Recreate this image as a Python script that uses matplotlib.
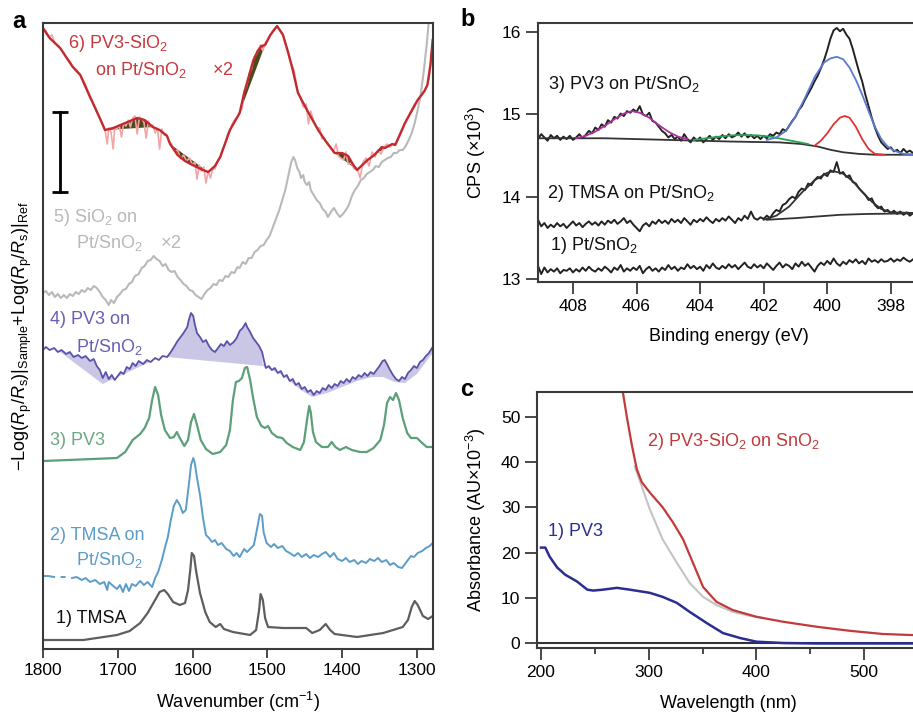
import numpy as np
import matplotlib.pyplot as plt

plt.rcParams['font.family'] = ['Liberation Sans', 'DejaVu Sans']
plt.rcParams['mathtext.fontset'] = 'custom'
plt.rcParams['mathtext.rm'] = 'Liberation Sans'
plt.rcParams['mathtext.it'] = 'Liberation Sans:italic'
plt.rcParams['mathtext.bf'] = 'Liberation Sans:bold'

# ---------------- panel a : IR spectra (wavenumber, stacked intensity, a.u.) ----------------
tmsa = [(1800, 9), (1746, 9), (1701, 14), (1684, 18), (1670, 26), (1660, 36), (1650, 49), (1644, 57),
        (1638, 59), (1633, 55), (1626, 47), (1617, 44), (1610, 46), (1606, 59), (1603, 79), (1601, 96),
        (1598, 93), (1595, 77), (1590, 56), (1583, 37), (1577, 27), (1569, 22), (1563, 25), (1558, 20),
        (1546, 17), (1523, 14), (1515, 19), (1511, 39), (1509, 55), (1506, 49), (1503, 31), (1499, 22),
        (1479, 21), (1456, 21), (1448, 21), (1440, 16), (1430, 19), (1422, 25), (1416, 19), (1410, 15),
        (1380, 12), (1345, 16), (1319, 22), (1312, 29), (1307, 42), (1303, 48), (1299, 44), (1292, 33),
        (1285, 30), (1279, 33)]

tmsa_pt = [(1800, 73), (1793, 73), (1785, 72), (np.nan, np.nan), (1775, 72), (1771, 72), (np.nan, np.nan),
           (1761, 71), (1755, 72), (1748, 69), (1743, 71), (1737, 67), (1730, 69), (1724, 65), (1718, 67),
           (1714, 59), (1712, 67), (1706, 63), (1701, 60), (1697, 64), (1693, 57), (1689, 65), (1685, 58),
           (1681, 65), (1676, 63), (1670, 68), (1665, 64), (1660, 67), (1654, 62), (1650, 71), (1646, 77),
           (1641, 89), (1637, 101), (1633, 112), (1629, 129), (1625, 143), (1621, 149), (1617, 144),
           (1613, 136), (1609, 139), (1605, 164), (1602, 184), (1599, 191), (1597, 186), (1594, 171),
           (1590, 154), (1586, 131), (1582, 114), (1578, 111), (1574, 107), (1570, 109), (1566, 104),
           (1561, 106), (1555, 100), (1550, 98), (1545, 93), (1541, 96), (1537, 92), (1531, 100), (1527, 97),
           (1522, 101), (1518, 104), (1514, 119), (1510, 135), (1507, 133), (1505, 117), (1501, 106),
           (1495, 102), (1491, 105), (1486, 101), (1480, 103), (1475, 98), (1470, 96), (1464, 93), (1459, 96),
           (1454, 92), (1448, 95), (1443, 91), (1438, 94), (1432, 92), (1427, 95), (1422, 97), (1416, 92),
           (1411, 96), (1406, 90), (1400, 88), (1395, 91), (1390, 87), (1384, 89), (1379, 85), (1374, 88),
           (1368, 86), (1363, 90), (1357, 88), (1352, 91), (1347, 87), (1341, 89), (1336, 84), (1331, 86),
           (1325, 82), (1320, 81), (1316, 85), (1312, 89), (1308, 93), (1304, 92), (1299, 96), (1293, 98),
           (1288, 101), (1283, 103), (1279, 106)]

pv3 = [(1800, 188), (1701, 191), (1690, 197), (1680, 209), (1670, 215), (1664, 221), (1658, 231), (1654, 249),
       (1650, 262), (1646, 254), (1642, 234), (1637, 219), (1630, 211), (1625, 212), (1621, 217), (1617, 211),
       (1611, 203), (1606, 209), (1602, 227), (1598, 235), (1594, 224), (1589, 209), (1582, 200), (1573, 195),
       (1563, 197), (1555, 204), (1550, 219), (1546, 249), (1542, 267), (1538, 268), (1534, 271), (1530, 281),
       (1527, 282), (1523, 269), (1519, 251), (1514, 232), (1508, 223), (1503, 221), (1499, 223), (1494, 216),
       (1487, 212), (1480, 211), (1474, 206), (1466, 202), (1456, 199), (1451, 207), (1447, 229), (1444, 243),
       (1442, 237), (1439, 217), (1435, 207), (1427, 202), (1419, 202), (1414, 207), (1409, 202), (1403, 199),
       (1395, 202), (1387, 199), (1376, 197), (1367, 197), (1358, 201), (1349, 209), (1344, 224), (1340, 246),
       (1336, 252), (1332, 249), (1328, 256), (1324, 249), (1319, 231), (1313, 216), (1308, 211), (1300, 211),
       (1293, 206), (1287, 202), (1279, 202)]

pv3_pt = [(1800, 299), (1796, 302), (1791, 299), (1785, 301), (1780, 297), (1775, 299), (1769, 295), (1764, 297),
          (1759, 292), (1753, 294), (1748, 291), (1743, 293), (1737, 288), (1732, 290), (1728, 283), (1724, 279),
          (1720, 271), (1716, 277), (1712, 270), (1708, 274), (1704, 269), (1700, 273), (1696, 277), (1692, 275),
          (1688, 282), (1684, 280), (1680, 286), (1676, 283), (1672, 288), (1666, 285), (1661, 289), (1656, 287),
          (1650, 291), (1645, 289), (1640, 293), (1634, 292), (1629, 297), (1624, 303), (1620, 308), (1616, 312),
          (1612, 316), (1607, 322), (1605, 329), (1602, 336), (1599, 333), (1597, 325), (1594, 316), (1590, 312),
          (1586, 307), (1582, 309), (1578, 303), (1574, 299), (1570, 297), (1566, 301), (1562, 305), (1558, 303),
          (1554, 308), (1550, 304), (1545, 307), (1541, 311), (1537, 318), (1533, 321), (1529, 326), (1527, 322),
          (1523, 317), (1519, 311), (1515, 307), (1511, 303), (1507, 297), (1504, 287), (1502, 281), (1498, 283),
          (1494, 279), (1490, 281), (1486, 276), (1482, 278), (1478, 272), (1474, 274), (1470, 268), (1466, 270),
          (1462, 264), (1458, 266), (1454, 260), (1450, 262), (1446, 257), (1442, 259), (1438, 254), (1434, 258),
          (1430, 256), (1426, 261), (1422, 259), (1418, 264), (1414, 261), (1410, 265), (1406, 263), (1402, 268),
          (1398, 266), (1394, 270), (1390, 267), (1386, 272), (1382, 270), (1378, 274), (1374, 272), (1370, 276),
          (1366, 273), (1362, 277), (1358, 275), (1354, 279), (1350, 283), (1346, 288), (1343, 289), (1340, 285),
          (1336, 279), (1332, 274), (1328, 270), (1324, 268), (1320, 272), (1316, 270), (1312, 276), (1308, 279),
          (1304, 283), (1300, 281), (1296, 287), (1292, 289), (1288, 293), (1284, 296), (1279, 302)]

# baselines under the PV3 on Pt/SnO2 bands (shaded)
pv3_pt_base = [
    [(1777, 297), (1720, 265), (1657, 287)],
    [(1634, 292), (1506, 283)],
    [(1506, 283), (1480, 274), (1455, 259), (1440, 252), (1420, 256), (1400, 262), (1380, 268),
     (1360, 272), (1345, 272), (1330, 267), (1316, 266), (1300, 275), (1279, 296)],
]

sio2_pt = [(1800, 356), (1796, 358), (1792, 354), (1788, 357), (1784, 352), (1780, 355), (1776, 351), (1772, 354),
           (1768, 351), (1764, 355), (1760, 353), (1756, 357), (1752, 355), (1748, 359), (1744, 357), (1740, 361),
           (1736, 359), (1732, 363), (1728, 361), (1724, 357), (1720, 352), (1716, 349), (1712, 344), (1709, 349),
           (1705, 346), (1701, 352), (1697, 355), (1693, 359), (1689, 360), (1685, 365), (1681, 367), (1677, 373),
           (1672, 375), (1668, 381), (1664, 383), (1660, 388), (1656, 389), (1652, 393), (1648, 390), (1644, 388),
           (1640, 383), (1636, 385), (1632, 379), (1628, 377), (1624, 378), (1620, 372), (1616, 369), (1612, 365),
           (1608, 363), (1604, 359), (1600, 358), (1596, 354), (1592, 352), (1588, 350), (1584, 355), (1580, 359),
           (1576, 361), (1572, 365), (1568, 364), (1564, 369), (1560, 368), (1556, 373), (1552, 372), (1548, 377),
           (1544, 376), (1540, 382), (1537, 381), (1533, 387), (1529, 385), (1525, 391), (1521, 391), (1517, 397),
           (1513, 399), (1509, 403), (1505, 404), (1501, 409), (1497, 413), (1493, 421), (1489, 429), (1484, 439),
           (1480, 449), (1476, 459), (1472, 473), (1468, 487), (1465, 492), (1463, 489), (1460, 481), (1457, 477),
           (1455, 471), (1452, 474), (1450, 467), (1447, 464), (1444, 467), (1442, 459), (1438, 454), (1434, 449),
           (1430, 446), (1426, 440), (1422, 437), (1419, 432), (1415, 437), (1411, 441), (1407, 436), (1403, 432),
           (1399, 435), (1395, 439), (1391, 444), (1387, 453), (1383, 459), (1379, 463), (1375, 469), (1371, 471),
           (1367, 475), (1363, 477), (1359, 479), (1355, 483), (1351, 482), (1347, 487), (1343, 489), (1339, 491),
           (1335, 492), (1331, 496), (1327, 496), (1323, 499), (1319, 499), (1315, 503), (1311, 509), (1307, 516),
           (1303, 526), (1299, 539), (1295, 554), (1291, 577), (1287, 604), (1284, 629), (1281, 649)]

pv3_sio2_raw = [(1800, 621), (1796, 618), (1792, 612), (1788, 614), (1784, 606), (1780, 604), (1776, 600),
                (1772, 596), (1768, 590), (1764, 588), (1760, 582), (1756, 580), (1752, 576), (1748, 571),
                (1744, 566), (1740, 558), (1736, 552), (1732, 545), (1728, 538), (1724, 531), (1720, 524),
                (1717, 519), (1714, 505), (1712, 521), (1709, 517), (1706, 500), (1704, 522), (1701, 520),
                (1698, 524), (1695, 512), (1692, 526), (1689, 523), (1686, 529), (1683, 522), (1680, 531),
                (1677, 533), (1674, 515), (1671, 532), (1668, 530), (1665, 527), (1662, 511), (1659, 528),
                (1656, 522), (1653, 524), (1650, 516), (1647, 521), (1644, 500), (1641, 520), (1638, 514),
                (1635, 515), (1632, 508), (1628, 505), (1624, 498), (1620, 499), (1616, 490), (1612, 494),
                (1608, 488), (1604, 491), (1600, 484), (1597, 487), (1594, 470), (1591, 484), (1588, 478),
                (1585, 482), (1582, 466), (1579, 478), (1576, 471), (1573, 480), (1570, 480), (1566, 489),
                (1563, 491), (1560, 500), (1557, 504), (1553, 515), (1550, 519), (1547, 525), (1544, 529),
                (1540, 532), (1537, 537), (1534, 540), (1531, 558), (1528, 562), (1524, 576), (1521, 580),
                (1518, 592), (1515, 594), (1512, 599), (1509, 604), (1506, 598), (1503, 606), (1500, 609),
                (1496, 614), (1492, 619), (1488, 622), (1484, 620), (1480, 616), (1476, 606), (1472, 597),
                (1468, 586), (1464, 578), (1460, 559), (1456, 552), (1452, 542), (1448, 545), (1445, 525),
                (1442, 538), (1438, 528), (1434, 521), (1430, 521), (1427, 510), (1424, 511), (1420, 505),
                (1416, 502), (1412, 497), (1408, 505), (1405, 493), (1402, 491), (1398, 489), (1395, 497),
                (1392, 485), (1388, 486), (1384, 480), (1380, 481), (1376, 471), (1372, 487), (1368, 491),
                (1364, 483), (1360, 497), (1356, 492), (1352, 499), (1348, 495), (1344, 502), (1340, 505),
                (1336, 502), (1332, 505), (1328, 506), (1324, 512), (1320, 518), (1316, 526), (1312, 532),
                (1308, 538), (1304, 544), (1300, 548), (1296, 552), (1292, 555), (1288, 560), (1284, 570),
                (1281, 588), (1279, 605)]

pv3_sio2 = [(1800, 621), (1791, 611), (1777, 601), (1760, 582), (1750, 574), (1737, 552), (1724, 531),
            (1717, 519), (1706, 521), (1690, 526), (1674, 531), (1664, 529), (1653, 522), (1644, 519),
            (1634, 513), (1630, 505), (1620, 494), (1610, 488), (1600, 484), (1586, 479), (1579, 477),
            (1570, 483), (1563, 492), (1550, 519), (1537, 536), (1531, 556), (1525, 572), (1519, 588),
            (1513, 598), (1508, 603), (1503, 604), (1496, 614), (1487, 623), (1479, 614), (1472, 596),
            (1466, 579), (1459, 556), (1447, 539), (1432, 519), (1423, 509), (1410, 496), (1400, 496),
            (1392, 493), (1385, 484), (1380, 479), (1366, 489), (1357, 494), (1347, 502), (1343, 501),
            (1333, 505), (1329, 504), (1316, 526), (1299, 549), (1290, 558), (1286, 564), (1282, 584),
            (1279, 609)]

# bands of PV3-SiO2 filled against their chord (wavenumber ranges)
pv3_sio2_bands = [(1717, 1653), (1630, 1579), (1537, 1503), (1410, 1380), (1357, 1333)]

scale_bar = (1777, 457, 537)

# ---------------- panel b : XPS N1s ----------------
be_start, be_end = 409.1, 397.3
xps_pv3 = [14.70, 14.76, 14.72, 14.68, 14.75, 14.71, 14.74, 14.69, 14.73, 14.70,
           14.74, 14.69, 14.72, 14.76, 14.71, 14.75, 14.80, 14.77, 14.84, 14.81,
           14.88, 14.85, 14.93, 14.90, 14.97, 14.95, 15.01, 14.98, 15.04, 15.02,
           15.06, 15.03, 15.10, 15.00, 14.98, 15.02, 14.92, 14.90, 14.85, 14.80,
           14.77, 14.72, 14.75, 14.70, 14.73, 14.68, 14.76, 14.70, 14.66, 14.72,
           14.68, 14.72, 14.66, 14.70, 14.74, 14.69, 14.73, 14.70, 14.75, 14.71,
           14.76, 14.72, 14.74, 14.78, 14.73, 14.77, 14.72, 14.75, 14.71, 14.74,
           14.70, 14.74, 14.71, 14.76, 14.74, 14.78, 14.76, 14.82, 14.80, 14.86,
           14.92, 14.97, 15.05, 15.10, 15.18, 15.25, 15.32, 15.40, 15.47, 15.56,
           15.66, 15.78, 15.92, 16.02, 16.05, 16.01, 16.04, 15.97, 15.92, 15.80,
           15.66, 15.52, 15.40, 15.24, 15.10, 14.96, 14.84, 14.74, 14.66, 14.62,
           14.58, 14.60, 14.55, 14.57, 14.53, 14.58, 14.54, 14.56, 14.53]
xps_tmsa = [13.72, 13.64, 13.68, 13.62, 13.66, 13.63, 13.68, 13.64, 13.67, 13.62,
            13.66, 13.70, 13.65, 13.68, 13.63, 13.67, 13.70, 13.66, 13.69, 13.65,
            13.70, 13.66, 13.71, 13.68, 13.72, 13.67, 13.70, 13.74, 13.68, 13.71,
            13.66, 13.62, 13.58, 13.65, 13.68, 13.64, 13.70, 13.67, 13.72, 13.68,
            13.71, 13.67, 13.73, 13.69, 13.72, 13.68, 13.74, 13.70, 13.66, 13.72,
            13.69, 13.73, 13.70, 13.75, 13.71, 13.68, 13.73, 13.70, 13.74, 13.71,
            13.76, 13.72, 13.68, 13.74, 13.71, 13.77, 13.73, 13.82, 13.74, 13.72,
            13.75, 13.73, 13.77, 13.74, 13.80, 13.84, 13.82, 13.90, 13.92, 13.97,
            14.00, 13.98, 14.06, 14.10, 14.08, 14.16, 14.14, 14.20, 14.24, 14.22,
            14.28, 14.25, 14.32, 14.30, 14.42, 14.28, 14.30, 14.24, 14.26, 14.18,
            14.16, 14.10, 14.06, 14.02, 13.96, 13.98, 13.90, 13.86, 13.88, 13.82,
            13.84, 13.80, 13.83, 13.79, 13.82, 13.78, 13.81, 13.77, 13.80]
xps_pt = [13.16, 13.06, 13.14, 13.08, 13.12, 13.09, 13.13, 13.07, 13.11, 13.10,
          13.13, 13.08, 13.12, 13.09, 13.14, 13.10, 13.15, 13.11, 13.09, 13.13,
          13.10, 13.15, 13.12, 13.08, 13.14, 13.11, 13.17, 13.09, 13.13, 13.10,
          13.14, 13.11, 13.16, 13.07, 13.12, 13.15, 13.10, 13.13, 13.09, 13.14,
          13.11, 13.17, 13.12, 13.15, 13.10, 13.14, 13.12, 13.18, 13.13, 13.16,
          13.12, 13.15, 13.10, 13.17, 13.13, 13.19, 13.14, 13.12, 13.16, 13.13,
          13.18, 13.14, 13.17, 13.12, 13.16, 13.20, 13.15, 13.13, 13.18, 13.14,
          13.17, 13.13, 13.19, 13.15, 13.11, 13.16, 13.20, 13.14, 13.18, 13.16,
          13.12, 13.19, 13.15, 13.21, 13.16, 13.19, 13.14, 13.09, 13.16, 13.20,
          13.17, 13.22, 13.18, 13.25, 13.19, 13.16, 13.21, 13.18, 13.23, 13.20,
          13.24, 13.19, 13.22, 13.18, 13.25, 13.21, 13.23, 13.20, 13.24, 13.21,
          13.22, 13.25, 13.21, 13.24, 13.22, 13.26, 13.23, 13.21, 13.24]

pv3_bg = [(409.1, 14.71), (407, 14.71), (405, 14.69), (403, 14.67), (401.5, 14.66), (400.8, 14.64),
          (400.3, 14.61), (399.9, 14.57), (399.5, 14.54), (399.0, 14.52), (398.5, 14.51), (397.0, 14.51)]
fit_magenta = [(407.9, 14.71), (407.6, 14.74), (407.3, 14.79), (407.0, 14.86), (406.7, 14.94), (406.4, 15.01),
               (406.15, 15.04), (405.9, 15.02), (405.6, 14.96), (405.3, 14.87), (405.0, 14.79), (404.7, 14.73),
               (404.4, 14.70)]
fit_green = [(404.2, 14.69), (403.8, 14.71), (403.4, 14.73), (403.0, 14.745), (402.6, 14.75), (402.2, 14.745),
             (401.8, 14.73), (401.4, 14.70), (401.0, 14.67), (400.6, 14.64)]
fit_blue = [(401.9, 14.69), (401.6, 14.72), (401.3, 14.80), (401.0, 14.97), (400.7, 15.20), (400.4, 15.45),
            (400.1, 15.63), (399.9, 15.68), (399.7, 15.70), (399.5, 15.67), (399.3, 15.57), (399.1, 15.42),
            (398.9, 15.24), (398.7, 15.04), (398.5, 14.85), (398.3, 14.70), (398.1, 14.61), (397.9, 14.56),
            (397.6, 14.52), (397.0, 14.51)]
fit_red = [(400.4, 14.62), (400.2, 14.68), (400.0, 14.77), (399.8, 14.88), (399.6, 14.96), (399.45, 14.98),
           (399.3, 14.96), (399.1, 14.85), (398.9, 14.70), (398.7, 14.58), (398.5, 14.52), (398.2, 14.51)]
tmsa_bg = [(401.9, 13.72), (401.0, 13.74), (400.3, 13.76), (399.6, 13.78), (398.8, 13.79), (397.0, 13.80)]
tmsa_fit = [(402.0, 13.72), (401.6, 13.77), (401.2, 13.88), (400.8, 14.05), (400.4, 14.20), (400.0, 14.29),
            (399.8, 14.31), (399.5, 14.28), (399.2, 14.19), (398.9, 14.06), (398.6, 13.94), (398.3, 13.85),
            (398.0, 13.81), (397.0, 13.80)]

# ---------------- panel c : UV-vis ----------------
uv_pv3 = [(200, 21.1), (204, 21.1), (208, 19.1), (215, 16.7), (222.5, 15.1), (233.5, 13.6), (243, 11.8),
          (248.5, 11.6), (257.5, 11.8), (270.5, 12.2), (282.5, 11.8), (301, 11.1), (313, 10.2), (326, 8.9),
          (338, 6.9), (354, 4.4), (369, 2.2), (385, 1.1), (400, 0.3), (425, 0.0), (456, -0.1), (552, -0.1)]
uv_pv3_sio2 = [(276, 55.5), (280, 49.6), (284.5, 43.6), (289, 38.4), (293.5, 35.6), (301, 33.3), (313, 30.0),
               (322.5, 26.7), (332, 22.9), (341, 17.8), (350.5, 12.4), (363, 9.1), (378, 7.3), (400, 5.8),
               (425, 4.7), (456, 3.6), (487, 2.7), (517.5, 2.0), (552, 1.7)]
uv_sno2 = [(287, 39.1), (293.5, 34.7), (301, 29.6), (313, 22.9), (326, 17.8), (338, 13.3), (350.5, 10.2),
           (363, 8.4), (378, 6.9), (394, 6.0), (405, 5.6)]


def xy(pairs):
    arr = np.array(pairs, dtype=float)
    return arr[:, 0], arr[:, 1]


def style_axes(ax):
    for s in ax.spines.values():
        s.set_color('#3a3a3a')
        s.set_linewidth(1.5)
    ax.tick_params(direction='out', width=1.3, color='#3a3a3a', labelsize=12.5, length=6.5)


fig = plt.figure(figsize=(9.13, 7.15), dpi=100)

# ---------- a ----------
ax = fig.add_axes([0.047, 0.0923, 0.4272, 0.8755])
style_axes(ax)
ax.set_xlim(1800, 1278.6)
ax.set_ylim(0, 626)
ax.set_xticks([1800, 1700, 1600, 1500, 1400, 1300])
ax.set_yticks([])

x, y = xy(sio2_pt)
ax.plot(x, y, color='#b9b9b9', lw=1.5)

x, y = xy(pv3_sio2_raw)
ax.plot(x, y, color='#f3a5a5', lw=1.2)
x, y = xy(pv3_sio2)
for hi, lo in pv3_sio2_bands:
    m = (x <= hi) & (x >= lo)
    ax.fill(x[m], y[m], color='#4b4a1e', lw=0)
ax.plot(x, y, color='#c22a30', lw=1.7)

x, y = xy(pv3_pt)
for seg in pv3_pt_base:
    bx, by = xy(seg)
    m = (x <= bx.max()) & (x >= bx.min())
    ax.fill(np.r_[x[m], bx[::-1]], np.r_[y[m], by[::-1]], color='#b4b0dc', alpha=0.7, lw=0)
ax.plot(x, y, color='#5a52a8', lw=1.3)

x, y = xy(pv3)
ax.plot(x, y, color='#5c9f78', lw=1.6)
x, y = xy(tmsa_pt)
ax.plot(x, y, color='#5b9cc9', lw=1.4)
x, y = xy(tmsa)
ax.plot(x, y, color='#5e5e5e', lw=1.6)

sx, sy0, sy1 = scale_bar
ax.plot([sx, sx], [sy0, sy1], color='k', lw=2)
ax.plot([sx, sx], [sy0, sy1], ls='none', marker='_', ms=11, mew=2, color='k')

fs = 13
ax.text(1766, 606, r'6) PV3-SiO$_2$', color='#c8383d', fontsize=fs, va='center')
ax.text(1730, 579, r'on Pt/SnO$_2$', color='#c8383d', fontsize=fs, va='center')
ax.text(1574, 579, r'$\times$2', color='#c8383d', fontsize=fs, va='center')
ax.text(1786, 432, r'5) SiO$_2$ on', color='#b8b8b8', fontsize=fs, va='center')
ax.text(1756, 406, r'Pt/SnO$_2$', color='#b8b8b8', fontsize=fs, va='center')
ax.text(1644, 406, r'$\times$2', color='#b8b8b8', fontsize=fs, va='center')
ax.text(1790, 330, '4) PV3 on', color='#6660b5', fontsize=fs, va='center')
ax.text(1756, 302, r'Pt/SnO$_2$', color='#6660b5', fontsize=fs, va='center')
ax.text(1790, 209, '3) PV3', color='#6aa882', fontsize=fs, va='center')
ax.text(1790, 114, '2) TMSA on', color='#5b9cc9', fontsize=fs, va='center')
ax.text(1756, 89, r'Pt/SnO$_2$', color='#5b9cc9', fontsize=fs, va='center')
ax.text(1782, 31, '1) TMSA', color='#111111', fontsize=fs, va='center')

ax.set_xlabel(r'Wavenumber (cm$^{-1}$)', fontsize=13)
ax.xaxis.set_label_coords(0.5, -0.066)
ax.set_ylabel(r'$-$Log($R_\mathrm{p}$/$R_\mathrm{s}$)|$_\mathrm{Sample}$+Log($R_\mathrm{p}$/$R_\mathrm{s}$)|$_\mathrm{Ref}$',
              fontsize=13)
ax.yaxis.set_label_coords(-0.023, 0.5)

# ---------- b ----------
bx_ = fig.add_axes([0.5893, 0.6056, 0.4184, 0.3622])
style_axes(bx_)
bx_.tick_params(length=8.5)
bx_.set_xlim(409.1, 397.08)
bx_.set_ylim(12.964, 16.11)
bx_.set_xticks([408, 406, 404, 402, 400, 398])
bx_.set_yticks([13, 14, 15, 16])

for vals in (xps_pt, xps_tmsa, xps_pv3):
    e = np.linspace(be_start, be_end, len(vals))
    bx_.plot(e, vals, color='#222222', lw=1.4)
for pairs, c in ((pv3_bg, '#333333'), (tmsa_bg, '#333333'), (tmsa_fit, '#333333'),
                 (fit_magenta, '#b0309c'), (fit_green, '#2aa055'), (fit_blue, '#5a7ad0'), (fit_red, '#e03434')):
    x, y = xy(pairs)
    bx_.plot(x, y, color=c, lw=1.3)

bx_.text(408.79, 15.36, r'3) PV3 on Pt/SnO$_2$', fontsize=fs, va='center', color='#111111')
bx_.text(408.82, 14.04, r'2) TMSA on Pt/SnO$_2$', fontsize=fs, va='center', color='#111111')
bx_.text(408.72, 13.41, r'1) Pt/SnO$_2$', fontsize=fs, va='center', color='#111111')
bx_.set_xlabel('Binding energy (eV)', fontsize=13)
bx_.xaxis.set_label_coords(0.5, -0.178)
bx_.set_ylabel(r'CPS ($\times$10$^3$)', fontsize=13)
bx_.yaxis.set_label_coords(-0.131, 0.5)

# ---------- c ----------
cx = fig.add_axes([0.5882, 0.0937, 0.4195, 0.358])
style_axes(cx)
cx.tick_params(length=8.5)
cx.set_xlim(196.3, 552)
cx.set_ylim(-1.1, 55.5)
cx.set_xticks([200, 300, 400, 500])
cx.set_xticks([250, 350, 450], minor=True)
cx.tick_params(axis='x', which='minor', direction='out', length=4.5, width=1.3, color='#3a3a3a')
cx.set_yticks([0, 10, 20, 30, 40, 50])
cx.axhline(0, color='#333333', lw=1.5)

x, y = xy(uv_sno2)
cx.plot(x, y, color='#c4c4c4', lw=1.5)
x, y = xy(uv_pv3_sio2)
cx.plot(x, y, color='#c23a3a', lw=1.6)
x, y = xy(uv_pv3)
cx.plot(x, y, color='#2b2e90', lw=1.8)

cx.text(298.4, 44.5, r'2) PV3-SiO$_2$ on SnO$_2$', fontsize=fs, va='center', color='#c23a3a')
cx.text(206.5, 24.6, '1) PV3', fontsize=fs, va='center', color='#2b2e90')
cx.set_xlabel('Wavelength (nm)', fontsize=13)
cx.xaxis.set_label_coords(0.5, -0.184)
cx.set_ylabel(r'Absorbance (AU$\times$10$^{-3}$)', fontsize=13)
cx.yaxis.set_label_coords(-0.128, 0.5)

fig.text(12 / 913, 1 - 22 / 715, 'a', fontsize=17, fontweight='bold', va='center')
fig.text(460 / 913, 1 - 20 / 715, 'b', fontsize=17, fontweight='bold', va='center')
fig.text(460 / 913, 1 - 390 / 715, 'c', fontsize=17, fontweight='bold', va='center')

fig.savefig('out.png', dpi=100)
